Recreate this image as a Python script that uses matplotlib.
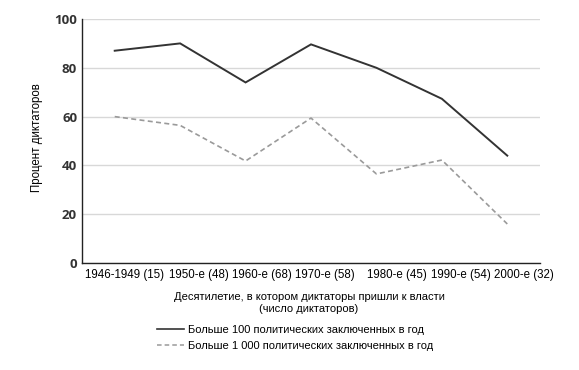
import matplotlib
matplotlib.use("Agg")
import matplotlib.pyplot as plt
from matplotlib.lines import Line2D

categories = ["1946-1949 (15)", "1950-е (48)", "1960-е (68)", "1970-е (58)",
              "1980-е (45)", "1990-е (54)", "2000-е (32)"]
over_100 = [87, 90, 74, 89.6, 80, 67.3, 44]
over_1000 = [60, 56.4, 41.8, 59.4, 36.5, 42.2, 16]
yticks = [0, 20, 40, 60, 80, 100]
# label placement shift (style only, in category units)
label_shift = [0.15, 0.28, 0.25, 0.21, 0.31, 0.29, 0.26]

plt.rcParams['font.family'] = ['Liberation Sans', 'DejaVu Sans']

fig = plt.figure(figsize=(5.79, 3.70), dpi=100)
ax = fig.add_axes([82/579, 1-263/370, (540-82)/579, (263-19)/370])

x = list(range(len(categories)))
ax.plot(x, over_100, color="#333333", lw=1.4, solid_joinstyle="miter")
ax.plot(x, over_1000, color="#9a9a9a", lw=1.2, ls=(0, (3, 2)))

ax.set_xlim(-0.5, len(categories) - 0.5)
ax.set_ylim(0, 100)
ax.set_yticks(yticks)
ax.set_yticklabels([str(v) for v in yticks], fontsize=9.5, fontweight="bold",
                   color="#333333", family=["Open Sans", "DejaVu Sans"])
ax.set_xticks([xi + s for xi, s in zip(x, label_shift)])
ax.set_xticklabels(categories, fontsize=8.3)
ax.tick_params(length=0, pad=4)
ax.tick_params(axis="y", pad=3.5)
ax.grid(axis="y", color="#d8d8d8", lw=1)
ax.set_axisbelow(True)
for s in ["top", "right"]:
    ax.spines[s].set_visible(False)
ax.spines["left"].set_color("#222222")
ax.spines["bottom"].set_color("#222222")
ax.spines["left"].set_linewidth(1)
ax.spines["bottom"].set_linewidth(1)

fig.text(37/579, 1-138/370, "Процент диктаторов", rotation=90, fontsize=8.3,
         ha="center", va="center")
fig.text(309/579, 1-303/370, "Десятилетие, в котором диктаторы пришли к власти\n(число диктаторов)",
         fontsize=8, ha="center", va="center", linespacing=1.15)

handles = [Line2D([], [], color="#333333", lw=1.2),
           Line2D([], [], color="#9a9a9a", lw=1.1, ls=(0, (3, 2)))]
labels = ["Больше 100 политических заключенных в год",
          "Больше 1 000 политических заключенных в год"]
fig.legend(handles, labels, loc="center left", bbox_to_anchor=(157/579, 1-338/370),
           frameon=False, fontsize=8, handlelength=2.4, handletextpad=0.35,
           labelspacing=0.6, borderpad=0, borderaxespad=0)

fig.savefig("out.png", dpi=100)
